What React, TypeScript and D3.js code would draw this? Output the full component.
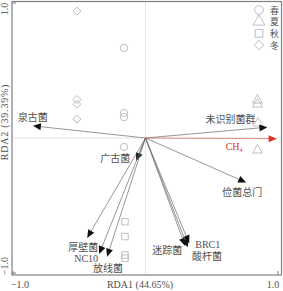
import React from "react";
import * as d3 from "d3";

const species = ["泉古菌", "未识别菌群", "广古菌", "厚壁菌", "NC10", "放线菌", "俭菌总门", "迷踪菌", "BRC1", "酸杆菌"];
const speciesRDA1 = [-0.85, 0.92, -0.07, -0.44, -0.35, -0.29, 0.76, 0.30, 0.33, 0.32];
const speciesRDA2 = [0.09, 0.08, -0.17, -0.74, -0.86, -0.88, -0.33, -0.80, -0.78, -0.81];

const envNames = ["CH4"];
const envRDA1 = [0.99];
const envRDA2 = [-0.005];

const seasons = ["春", "夏", "秋", "冬"];
const springX = [-0.162, -0.162, -0.162, -0.162];
const springY = [0.667, 0.185, 0.155, -0.067];
const summerX = [0.845, 0.845, 0.85, 0.845];
const summerY = [0.28, 0.25, 0.11, -0.09];
const autumnX = [-0.155, -0.155, -0.155, -0.155];
const autumnY = [-0.62, -0.73, -0.867, -0.89];
const winterX = [-0.517, -0.517, -0.517, -0.517];
const winterY = [0.94, 0.285, 0.25, 0.14];

const xTicks = [-1, 1];
const yTicks = [-1, 1];
const xTitle = "RDA1 (44.65%)";
const yTitle = "RDA2 (39.39%)";

// label layout offsets (px) relative to arrow tips
const labelLayout: Record<string, { dx: number; dy: number; anchor: string }> = {
  "泉古菌": { dx: -15, dy: -5, anchor: "start" },
  "未识别菌群": { dx: -12, dy: -4, anchor: "end" },
  "广古菌": { dx: -6, dy: 1, anchor: "end" },
  "厚壁菌": { dx: -19, dy: 13, anchor: "start" },
  "NC10": { dx: -1, dy: 8, anchor: "end" },
  "放线菌": { dx: -14, dy: 15, anchor: "start" },
  "俭菌总门": { dx: -24, dy: 13, anchor: "start" },
  "迷踪菌": { dx: -3, dy: 8, anchor: "end" },
  "BRC1": { dx: 6, dy: 5, anchor: "start" },
  "酸杆菌": { dx: 4, dy: 13, anchor: "start" },
};

const FONT = "'Liberation Serif', 'DejaVu Serif', 'Noto Sans CJK SC', serif";
const MARK = "#b8b8b8";
const TEXT = "#505050";

function symbolPath(kind: string, size: number) {
  if (kind === "circle") return d3.symbol(d3.symbolCircle, size)() as string;
  if (kind === "triangle") return d3.symbol(d3.symbolTriangle, size)() as string;
  return d3.symbol(d3.symbolSquare, size)() as string;
}

export default function App() {
  const W = 283, H = 291;
  const x = d3.scaleLinear().domain([-1, 1]).range([13, 278]);
  const y = d3.scaleLinear().domain([-1, 1]).range([273, 3]);
  const ox = x(0), oy = y(0);

  const groups = [
    { kind: "circle", xs: springX, ys: springY },
    { kind: "triangle", xs: summerX, ys: summerY },
    { kind: "square", xs: autumnX, ys: autumnY },
    { kind: "diamond", xs: winterX, ys: winterY },
  ];

  const head = (x1: number, y1: number, x2: number, y2: number, color: string, key: string) => {
    const ang = Math.atan2(y2 - y1, x2 - x1);
    const L = 8, Wd = 3.5;
    const bx = x2 - L * Math.cos(ang), by = y2 - L * Math.sin(ang);
    const px = -Math.sin(ang) * Wd, py = Math.cos(ang) * Wd;
    const pts = `${x2},${y2} ${bx + px},${by + py} ${bx - px},${by - py}`;
    return <polygon key={key} points={pts} fill={color} />;
  };

  const renderSym = (kind: string, cx: number, cy: number, size: number, key: string) => {
    const tr = kind === "diamond" ? `translate(${cx},${cy}) rotate(45)` : `translate(${cx},${cy})`;
    const s = kind === "diamond" ? size * 0.75 : size;
    return <path key={key} d={symbolPath(kind, s)} transform={tr} fill="none" stroke={MARK} strokeWidth={0.9} />;
  };

  return (
    <svg width={W} height={H} style={{ position: "absolute", left: 0, top: 0, background: "#fff" }} fontFamily={FONT}>
      {/* reference lines */}
      <line x1={ox} x2={ox} y1={1.5} y2={275} stroke="#e4e4e4" strokeWidth={1} />
      <line x1={12} x2={281} y1={oy} y2={oy} stroke="#e4e4e4" strokeWidth={1} />

      {/* frame */}
      <rect x={12} y={1.5} width={269.5} height={273.5} fill="none" stroke="#808080" strokeWidth={1.2} />

      {/* ticks */}
      {xTicks.map((t) => (
        <line key={"xt" + t} x1={x(t)} x2={x(t)} y1={275} y2={271} stroke="#808080" />
      ))}
      {yTicks.map((t) => (
        <line key={"yt" + t} x1={12} x2={16} y1={y(t)} y2={y(t)} stroke="#808080" />
      ))}
      {xTicks.map((t) => (
        <text key={"xl" + t} x={x(t) + (t < 0 ? 7 : -5)} y={288} fontSize={10} textAnchor="middle" fill={TEXT}>
          {d3.format(".1f")(t)}
        </text>
      ))}
      {yTicks.map((t) => (
        <text key={"yl" + t} transform={`translate(8,${y(t) + (t < 0 ? -7 : 6)}) rotate(-90)`} fontSize={10} textAnchor="middle" fill={TEXT}>
          {d3.format(".1f")(t)}
        </text>
      ))}
      <text x={140} y={288} fontSize={10} textAnchor="middle" fill={TEXT}>{xTitle}</text>
      <text transform={`translate(8,122) rotate(-90)`} fontSize={10} textAnchor="middle" fill={TEXT} letterSpacing={0.8}>{yTitle}</text>

      {/* samples */}
      {groups.map((g, gi) =>
        g.xs.map((v, i) => renderSym(g.kind, x(v), y(g.ys[i]), 42, `s${gi}-${i}`))
      )}

      {/* species arrows */}
      {species.map((name, i) => {
        const tx = x(speciesRDA1[i]), ty = y(speciesRDA2[i]);
        const ang = Math.atan2(ty - oy, tx - ox);
        return (
          <g key={name}>
            <line x1={ox} y1={oy} x2={tx - 6 * Math.cos(ang)} y2={ty - 6 * Math.sin(ang)} stroke="#6a6a6a" strokeWidth={0.7} />
            {head(ox, oy, tx, ty, "#111", "h" + i)}
          </g>
        );
      })}
      {species.map((name, i) => {
        const l = labelLayout[name];
        return (
          <text key={"l" + name} x={x(speciesRDA1[i]) + l.dx} y={y(speciesRDA2[i]) + l.dy} fontSize={10} textAnchor={l.anchor as any} fill={TEXT}>
            {name}
          </text>
        );
      })}

      {/* environmental arrow */}
      {envNames.map((name, i) => {
        const tx = x(envRDA1[i]), ty = y(envRDA2[i]);
        const ang = Math.atan2(ty - oy, tx - ox);
        return (
          <g key={name}>
            <line x1={ox} y1={oy} x2={tx - 6 * Math.cos(ang)} y2={ty - 6 * Math.sin(ang)} stroke="#e06050" strokeWidth={0.7} />
            {head(ox, oy, tx, ty, "#e03020", "eh" + i)}
            <text x={tx - 51} y={ty + 11} fontSize={10} fill="#e03020">
              CH<tspan fontSize={6} dy={2}>4</tspan>
            </text>
          </g>
        );
      })}

      {/* legend */}
      {seasons.map((s, i) => (
        <g key={s}>
          {renderSym(groups[i].kind, 259, 10 + i * 11.7, 60, "lg" + i)}
          <text x={270} y={13.5 + i * 11.7} fontSize={9} fill="#555">{s}</text>
        </g>
      ))}
    </svg>
  );
}
